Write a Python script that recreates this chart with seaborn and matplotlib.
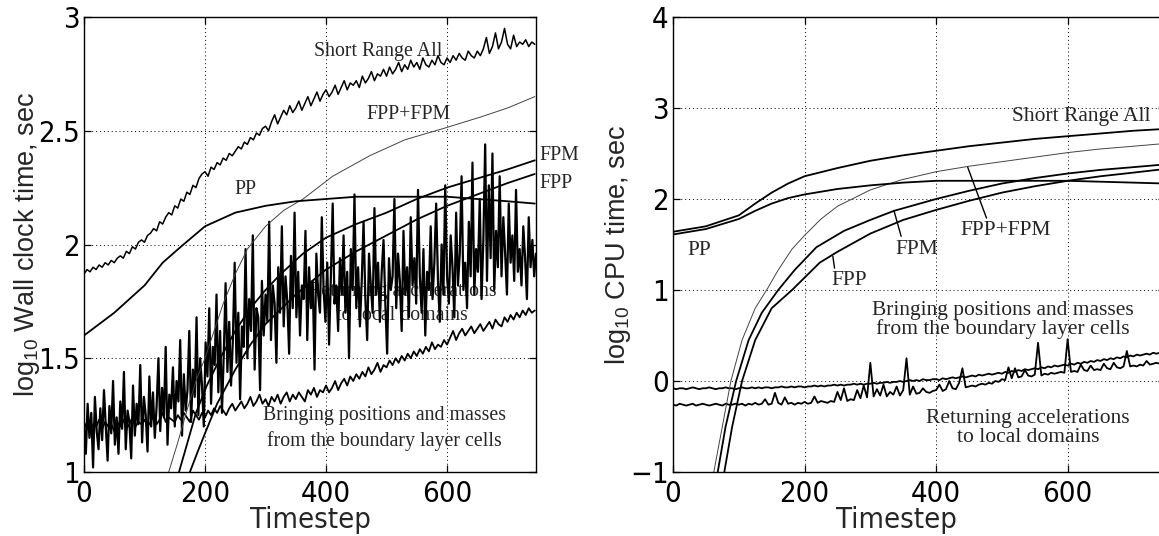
import numpy as np
import matplotlib
matplotlib.use("Agg")
import matplotlib.pyplot as plt
import seaborn as sns
from matplotlib import font_manager
from matplotlib.font_manager import FontProperties

# ---------------------------------------------------------------- data
# Wall clock time (log10 sec), left panel
wall_sra_t = np.arange(0, 750, 5)
wall_sra = [
    1.87, 1.89, 1.88, 1.90, 1.89, 1.91, 1.90, 1.92, 1.91, 1.93,
    1.92, 1.94, 1.95, 1.94, 1.97, 1.96, 1.99, 1.98, 2.01, 2.02,
    2.01, 2.04, 2.05, 2.07, 2.06, 2.10, 2.09, 2.12, 2.14, 2.13,
    2.17, 2.16, 2.20, 2.19, 2.23, 2.22, 2.26, 2.25, 2.29, 2.31,
    2.32, 2.30, 2.34, 2.33, 2.36, 2.35, 2.38, 2.37, 2.40, 2.39,
    2.41, 2.43, 2.42, 2.45, 2.44, 2.47, 2.46, 2.49, 2.48, 2.51,
    2.52, 2.50, 2.54, 2.57, 2.53, 2.56, 2.59, 2.57, 2.61, 2.58,
    2.60, 2.63, 2.59, 2.62, 2.65, 2.61, 2.64, 2.67, 2.63, 2.66,
    2.68, 2.65, 2.67, 2.70, 2.66, 2.69, 2.72, 2.68, 2.71, 2.70,
    2.72, 2.69, 2.74, 2.71, 2.73, 2.76, 2.72, 2.75, 2.74, 2.77,
    2.74, 2.78, 2.75, 2.77, 2.80, 2.76, 2.79, 2.77, 2.81, 2.78,
    2.80, 2.77, 2.82, 2.79, 2.78, 2.81, 2.79, 2.83, 2.80, 2.79,
    2.82, 2.80, 2.83, 2.81, 2.84, 2.82, 2.81, 2.85, 2.83, 2.82,
    2.85, 2.83, 2.86, 2.91, 2.84, 2.87, 2.93, 2.86, 2.89, 2.95,
    2.88, 2.86, 2.92, 2.87, 2.89, 2.88, 2.90, 2.87, 2.89, 2.88,
]

wall_pp_t = [0, 50, 100, 130, 160, 200, 250, 300, 350, 400, 450, 500, 550, 600, 650, 700, 745]
wall_pp = [1.60, 1.70, 1.82, 1.92, 1.99, 2.08, 2.14, 2.17, 2.19, 2.20, 2.21, 2.21, 2.21, 2.21, 2.20, 2.19, 2.18]

wall_fppfpm_t = [140, 155, 170, 185, 200, 215, 230, 250, 270, 300, 330, 362, 411, 472, 530, 594, 655, 700, 745]
wall_fppfpm = [1.00, 1.13, 1.27, 1.40, 1.50, 1.62, 1.74, 1.87, 1.98, 2.08, 2.15, 2.20, 2.30, 2.39, 2.46, 2.51, 2.56, 2.60, 2.65]

wall_fpm_t = [157, 170, 185, 203, 225, 250, 275, 300, 325, 362, 400, 450, 500, 550, 600, 650, 700, 745]
wall_fpm = [1.00, 1.12, 1.26, 1.38, 1.50, 1.62, 1.72, 1.80, 1.87, 1.96, 2.03, 2.09, 2.14, 2.20, 2.25, 2.29, 2.33, 2.37]

wall_fpp_t = [175, 188, 200, 220, 250, 275, 300, 350, 400, 450, 500, 550, 600, 650, 700, 745]
wall_fpp = [1.00, 1.09, 1.17, 1.30, 1.45, 1.56, 1.65, 1.78, 1.89, 1.97, 2.04, 2.11, 2.17, 2.22, 2.27, 2.31]

wall_bring_t = np.arange(0, 750, 5)
wall_bring = [
    1.19, 1.22, 1.18, 1.21, 1.20, 1.23, 1.19, 1.22, 1.20, 1.21,
    1.18, 1.22, 1.20, 1.23, 1.19, 1.21, 1.24, 1.20, 1.22, 1.21,
    1.23, 1.20, 1.22, 1.25, 1.21, 1.23, 1.26, 1.22, 1.24, 1.23,
    1.22, 1.25, 1.23, 1.26, 1.24, 1.22, 1.27, 1.25, 1.23, 1.26,
    1.24, 1.27, 1.25, 1.28, 1.26, 1.29, 1.27, 1.25, 1.28, 1.30,
    1.27, 1.29, 1.31, 1.28, 1.30, 1.33, 1.29, 1.31, 1.34, 1.30,
    1.32, 1.29, 1.33, 1.31, 1.34, 1.30, 1.33, 1.35, 1.31, 1.34,
    1.32, 1.35, 1.33, 1.31, 1.36, 1.34, 1.37, 1.33, 1.36, 1.35,
    1.38, 1.35, 1.37, 1.40, 1.36, 1.39, 1.41, 1.38, 1.42, 1.40,
    1.43, 1.41, 1.44, 1.42, 1.46, 1.43, 1.45, 1.48, 1.44, 1.47,
    1.46, 1.49, 1.47, 1.50, 1.48, 1.51, 1.49, 1.52, 1.50, 1.53,
    1.51, 1.54, 1.52, 1.55, 1.53, 1.57, 1.54, 1.56, 1.55, 1.58,
    1.56, 1.59, 1.62, 1.58, 1.61, 1.63, 1.60, 1.62, 1.64, 1.61,
    1.63, 1.65, 1.62, 1.64, 1.66, 1.63, 1.67, 1.65, 1.64, 1.68,
    1.66, 1.69, 1.67, 1.70, 1.68, 1.71, 1.69, 1.72, 1.70, 1.71,
]

wall_ret_t = np.arange(0, 750, 3)
wall_ret = [
    1.21, 1.08, 1.30, 1.15, 1.26, 1.02, 1.33, 1.18, 1.10, 1.28,
    1.14, 1.36, 1.20, 1.05, 1.29, 1.17, 1.40, 1.12, 1.24, 1.08,
    1.31, 1.19, 1.44, 1.10, 1.27, 1.22, 1.06, 1.38, 1.16, 1.30,
    1.21, 1.47, 1.13, 1.33, 1.25, 1.09, 1.42, 1.20, 1.35, 1.15,
    1.29, 1.50, 1.18, 1.37, 1.24, 1.55, 1.12, 1.34, 1.28, 1.46,
    1.20, 1.40, 1.31, 1.58, 1.16, 1.43, 1.27, 1.36, 1.62, 1.22,
    1.45, 1.33, 1.68, 1.25, 1.50, 1.38, 1.20, 1.57, 1.42, 1.72,
    1.30, 1.55, 1.47, 1.78, 1.35, 1.62, 1.26, 1.52, 1.83, 1.44,
    1.66, 1.38, 1.58, 1.92, 1.48, 1.70, 1.32, 1.64, 1.55, 1.98,
    1.50, 1.76, 1.62, 2.04, 1.45, 1.72, 1.68, 1.36, 1.84, 1.60,
    1.78, 1.66, 2.10, 1.58, 1.82, 1.74, 1.48, 1.90, 1.70, 2.08,
    1.64, 1.86, 1.75, 1.52, 1.95, 1.72, 2.14, 1.68, 1.88, 1.60,
    1.82, 1.76, 2.06, 1.58, 1.90, 1.72, 1.84, 1.45, 1.96, 1.78,
    1.70, 2.12, 1.80, 1.66, 1.92, 1.56, 1.86, 2.18, 1.74, 1.82,
    1.62, 1.94, 1.78, 2.04, 1.70, 1.88, 1.50, 1.98, 1.80, 2.22,
    1.72, 1.90, 1.64, 1.84, 2.10, 1.76, 1.58, 1.96, 1.82, 1.70,
    2.16, 1.78, 1.92, 1.66, 1.88, 2.02, 1.74, 1.52, 1.94, 1.80,
    1.86, 2.20, 1.72, 1.96, 1.84, 1.62, 2.06, 1.78, 1.90, 1.68,
    2.12, 1.82, 1.94, 1.74, 2.24, 1.86, 1.70, 1.98, 1.60, 1.88,
    1.80, 2.08, 1.76, 1.92, 2.18, 1.84, 1.66, 2.00, 1.78, 2.26,
    1.86, 1.74, 2.04, 1.90, 1.68, 2.14, 1.82, 1.96, 2.30, 1.80,
    1.92, 1.72, 2.10, 1.86, 2.36, 1.78, 1.98, 1.88, 2.20, 1.76,
    2.02, 2.44, 1.84, 2.26, 1.94, 2.40, 1.80, 2.06, 1.90, 2.30,
    1.86, 2.12, 1.96, 1.78, 2.18, 1.92, 2.04, 1.84, 2.24, 1.88,
    1.98, 1.82, 2.08, 1.94, 1.76, 2.12, 1.90, 2.02, 1.86, 1.96,
]

# CPU time (log10 sec), right panel
cpu_sra_t = [0, 50, 100, 125, 150, 175, 200, 250, 300, 350, 400, 450, 500, 550, 600, 650, 700, 748]
cpu_sra = [1.64, 1.70, 1.82, 1.95, 2.07, 2.17, 2.25, 2.34, 2.42, 2.48, 2.53, 2.58, 2.62, 2.66, 2.69, 2.72, 2.75, 2.77]

cpu_pp_t = [0, 50, 100, 125, 150, 175, 200, 250, 300, 350, 400, 450, 500, 550, 600, 650, 700, 748]
cpu_pp = [1.61, 1.67, 1.78, 1.87, 1.95, 2.01, 2.05, 2.11, 2.15, 2.18, 2.20, 2.20, 2.20, 2.20, 2.20, 2.19, 2.18, 2.17]

cpu_fppfpm_t = [62, 75, 88, 105, 125, 144, 160, 181, 200, 225, 250, 300, 347, 400, 450, 500, 550, 600, 650, 700, 748]
cpu_fppfpm = [-1.0, -0.5, 0.0, 0.45, 0.80, 1.02, 1.22, 1.45, 1.60, 1.78, 1.92, 2.10, 2.21, 2.30, 2.36, 2.41, 2.46, 2.51, 2.55, 2.58, 2.61]

cpu_fpm_t = [68, 80, 96, 115, 135, 160, 185, 218, 260, 300, 336, 400, 450, 500, 550, 600, 650, 700, 748]
cpu_fpm = [-1.0, -0.5, 0.0, 0.45, 0.75, 1.00, 1.22, 1.47, 1.65, 1.77, 1.87, 2.00, 2.09, 2.17, 2.23, 2.28, 2.32, 2.35, 2.38]

cpu_fpp_t = [78, 90, 105, 125, 150, 181, 223, 250, 300, 350, 400, 450, 500, 550, 600, 650, 700, 748]
cpu_fpp = [-1.0, -0.5, 0.0, 0.45, 0.80, 1.00, 1.30, 1.42, 1.62, 1.77, 1.88, 1.98, 2.07, 2.14, 2.20, 2.25, 2.29, 2.33]

cpu_bring_t = np.arange(0, 750, 5)
cpu_bring = [
    -0.08, -0.09, -0.08, -0.08, -0.09, -0.08, -0.07, -0.08, -0.09, -0.08,
    -0.08, -0.07, -0.08, -0.09, -0.08, -0.08, -0.07, -0.08, -0.08, -0.09,
    -0.08, -0.07, -0.08, -0.08, -0.07, -0.08, -0.07, -0.08, -0.07, -0.07,
    -0.08, -0.07, -0.07, -0.06, -0.07, -0.07, -0.06, -0.07, -0.06, -0.06,
    -0.07, -0.06, -0.06, -0.05, -0.06, -0.05, -0.06, -0.05, -0.05, -0.04,
    -0.05, -0.04, -0.05, -0.04, -0.04, -0.03, -0.04, -0.03, -0.04, -0.03,
    -0.03, -0.02, -0.03, -0.02, -0.02, -0.01, -0.02, -0.01, -0.01, 0.00,
    -0.01, 0.00, 0.01, 0.00, 0.01, 0.00, 0.02, 0.01, 0.01, 0.02,
    0.02, 0.01, 0.03, 0.02, 0.03, 0.04, 0.03, 0.04, 0.05, 0.04,
    0.05, 0.06, 0.05, 0.07, 0.06, 0.07, 0.08, 0.07, 0.08, 0.09,
    0.08, 0.10, 0.09, 0.11, 0.10, 0.12, 0.11, 0.13, 0.12, 0.13,
    0.14, 0.13, 0.15, 0.14, 0.16, 0.15, 0.17, 0.16, 0.17, 0.18,
    0.17, 0.19, 0.18, 0.20, 0.19, 0.21, 0.20, 0.22, 0.21, 0.23,
    0.22, 0.24, 0.23, 0.25, 0.24, 0.26, 0.25, 0.27, 0.26, 0.28,
    0.27, 0.29, 0.28, 0.29, 0.30, 0.29, 0.31, 0.30, 0.31, 0.30,
]

cpu_ret_t = np.arange(0, 750, 5)
cpu_ret = [
    -0.26, -0.27, -0.25, -0.26, -0.27, -0.26, -0.25, -0.27, -0.26, -0.25,
    -0.26, -0.27, -0.26, -0.25, -0.26, -0.27, -0.25, -0.26, -0.26, -0.25,
    -0.26, -0.25, -0.27, -0.25, -0.26, -0.24, -0.26, -0.25, -0.20, -0.26,
    -0.25, -0.13, -0.24, -0.26, -0.18, -0.25, -0.24, -0.26, -0.24, -0.25,
    -0.23, -0.25, -0.24, -0.17, -0.24, -0.22, -0.23, -0.24, -0.22, -0.23,
    -0.12, -0.21, -0.08, -0.22, -0.20, -0.21, -0.10, -0.19, -0.05, -0.18,
    0.20, -0.17, -0.09, -0.16, -0.04, -0.17, -0.12, -0.15, -0.06, -0.16,
    -0.10, 0.25, -0.15, -0.06, -0.14, -0.13, -0.08, -0.12, -0.13, -0.11,
    -0.10, -0.04, -0.11, -0.09, 0.00, -0.08, -0.09, -0.02, 0.14, -0.07,
    -0.06, -0.05, -0.06, -0.04, -0.03, -0.04, -0.02, -0.03, 0.00, -0.01,
    0.02, 0.01, 0.15, 0.03, 0.14, 0.04, 0.05, 0.12, 0.06, 0.05,
    0.07, 0.42, 0.06, 0.08, 0.07, 0.09, 0.08, 0.09, 0.10, 0.09,
    0.46, 0.10, 0.11, 0.10, 0.18, 0.12, 0.11, 0.17, 0.12, 0.13,
    0.12, 0.19, 0.14, 0.13, 0.20, 0.15, 0.14, 0.16, 0.33, 0.16,
    0.17, 0.16, 0.18, 0.17, 0.22, 0.18, 0.19, 0.20, 0.19, 0.20,
]

x_ticks = [0, 200, 400, 600]
wall_yticks = [1, 1.5, 2, 2.5, 3]
wall_yticklabels = ["1", "1.5", "2", "2.5", "3"]
cpu_yticks = [-1, 0, 1, 2, 3, 4]
cpu_yticklabels = ["\u22121", "0", "1", "2", "3", "4"]

# ---------------------------------------------------------------- style
sns.set_style("white")
plt.rcParams["font.family"] = ["Liberation Sans", "DejaVu Sans"]
plt.rcParams["mathtext.fontset"] = "custom"
plt.rcParams["mathtext.rm"] = "Liberation Sans"
plt.rcParams["mathtext.it"] = "Liberation Sans"
SERIF = "Liberation Serif"


def condensed_sans():
    """Pick an upright, regular-weight narrow sans face if one is installed."""
    prefs = ["liberation", "dejavu", "roboto", "open sans", "noto sans", "lato", "inter"]
    found = []
    for f in font_manager.fontManager.ttflist:
        name = f.name.lower()
        stretch = str(f.stretch).lower()
        narrow = ("condensed" in stretch or "narrow" in stretch
                  or "narrow" in name or "condensed" in name)
        if not narrow or f.style != "normal" or "mono" in name or "serif" in name:
            continue
        w = f.weight
        if isinstance(w, str):
            w = {"normal": 400, "regular": 400, "book": 400}.get(w.lower(), 700)
        if w > 450 or w < 350:
            continue
        rank = next((i for i, p in enumerate(prefs) if p in name), len(prefs))
        found.append((rank, f.fname))
    if found:
        found.sort()
        return found[0][1], True
    return None, False


cond_file, has_cond = condensed_sans()


def tick_font(size):
    if has_cond:
        return FontProperties(fname=cond_file, size=size)
    return FontProperties(family="Liberation Sans", size=size * 0.86)


fig = plt.figure(figsize=(11.59, 5.36), dpi=100)
W, H = 1159.0, 536.0
ax_l = fig.add_axes([84 / W, (H - 472) / H, 452 / W, 455 / H])
ax_r = fig.add_axes([673 / W, (H - 472) / H, 492 / W, 455 / H])

thick = dict(color="black", lw=1.3, estimator=None, sort=False, legend=False)
thin = dict(color="#444444", lw=0.7, estimator=None, sort=False, legend=False)


def line(ax, t, v, **kw):
    sns.lineplot(x=np.asarray(t), y=np.asarray(v), ax=ax, **kw)


def frame(ax, yticks, ylabels, ylim, xlim):
    ax.set_xlim(*xlim)
    ax.set_ylim(*ylim)
    ax.set_xticks(x_ticks)
    ax.set_xticklabels([str(v) for v in x_ticks], fontproperties=tick_font(21))
    ax.set_yticks(yticks)
    ax.set_yticklabels(ylabels, fontproperties=tick_font(21))
    ax.grid(True, color="black", linestyle=(0, (1, 3)), lw=0.7)
    ax.tick_params(direction="in", length=5, width=0.9, top=True, right=True,
                   bottom=True, left=True, pad=3, colors="black")
    ax.tick_params(axis="x", pad=6)
    for s in ax.spines.values():
        s.set_color("black")
        s.set_linewidth(1.0)
    ax.set_xlabel("Timestep", fontproperties=tick_font(21), labelpad=0)


# ---------------------------------------------------------------- left panel
frame(ax_l, wall_yticks, wall_yticklabels, (1, 3), (0, 747))
ax_l.text(526, 1.74, "Returning accelerations\nto local domains", ha="center", va="center",
          fontfamily=SERIF, fontsize=14.3, linespacing=1.4, zorder=0.5)
line(ax_l, wall_ret_t, wall_ret, color="black", lw=1.6, estimator=None, sort=False, legend=False)
line(ax_l, wall_bring_t, wall_bring, **thick)
line(ax_l, wall_fppfpm_t, wall_fppfpm, **thin)
line(ax_l, wall_fpm_t, wall_fpm, **thick)
line(ax_l, wall_fpp_t, wall_fpp, **thick)
line(ax_l, wall_pp_t, wall_pp, **thick)
line(ax_l, wall_sra_t, wall_sra, color="black", lw=1.1, estimator=None, sort=False, legend=False)

serif_l = dict(fontfamily=SERIF, fontsize=14.3)
ax_l.text(487, 2.85, "Short Range All", ha="center", va="center", **serif_l)
ax_l.text(537, 2.57, "FPP+FPM", ha="center", va="center", **serif_l)
ax_l.text(267, 2.24, "PP", ha="center", va="center", **serif_l)
ax_l.text(752, 2.39, "FPM", ha="left", va="center", clip_on=False, **serif_l)
ax_l.text(752, 2.27, "FPP", ha="left", va="center", clip_on=False, **serif_l)
ax_l.text(497, 1.19, "Bringing positions and masses\nfrom the boundary layer cells",
          ha="center", va="center", linespacing=1.4, **serif_l)
ax_l.set_ylabel("log$_{10}$ Wall clock time, sec", fontsize=19.5)
ax_l.yaxis.set_label_coords(-0.093, 0.5)

# ---------------------------------------------------------------- right panel
frame(ax_r, cpu_yticks, cpu_yticklabels, (-1, 4), (0, 748))
line(ax_r, cpu_ret_t, cpu_ret, **thick)
line(ax_r, cpu_bring_t, cpu_bring, **thick)
line(ax_r, cpu_fppfpm_t, cpu_fppfpm, **thin)
line(ax_r, cpu_fpm_t, cpu_fpm, **thick)
line(ax_r, cpu_fpp_t, cpu_fpp, **thick)
line(ax_r, cpu_pp_t, cpu_pp, **thick)
line(ax_r, cpu_sra_t, cpu_sra, **thick)

serif_r = dict(fontfamily=SERIF, fontsize=15.5)
ax_r.text(621, 2.91, "Short Range All", ha="center", va="center", **serif_r)
ax_r.text(40, 1.43, "PP", ha="center", va="center", **serif_r)
arrow = dict(arrowstyle="-", color="black", lw=1.0, shrinkA=0, shrinkB=0)
ax_r.annotate("FPM", xy=(336, 1.87), xytext=(371, 1.45), ha="center", va="center",
              arrowprops=dict(arrow, relpos=(0.15, 1.0)), **serif_r)
ax_r.annotate("FPP+FPM", xy=(448, 2.35), xytext=(506, 1.65), ha="center", va="center",
              arrowprops=dict(arrow, relpos=(0.3, 1.0)), **serif_r)
ax_r.annotate("FPP", xy=(243, 1.37), xytext=(268, 1.10), ha="center", va="center",
              arrowprops=dict(arrow, relpos=(0.1, 1.0)), **serif_r)
ax_r.text(502, 0.67, "Bringing positions and masses\nfrom the boundary layer cells",
          ha="center", va="center", linespacing=1.0, **serif_r)
ax_r.text(540, -0.52, "Returning accelerations\nto local domains",
          ha="center", va="center", linespacing=1.0, **serif_r)
ax_r.set_ylabel("log$_{10}$ CPU time, sec", fontsize=19.5)
ax_r.yaxis.set_label_coords(-0.081, 0.5)
ax_r.xaxis.set_label_coords(0.455, -0.075)
ax_l.xaxis.set_label_coords(0.5, -0.075)

fig.savefig("out.png", dpi=100, facecolor="white")
